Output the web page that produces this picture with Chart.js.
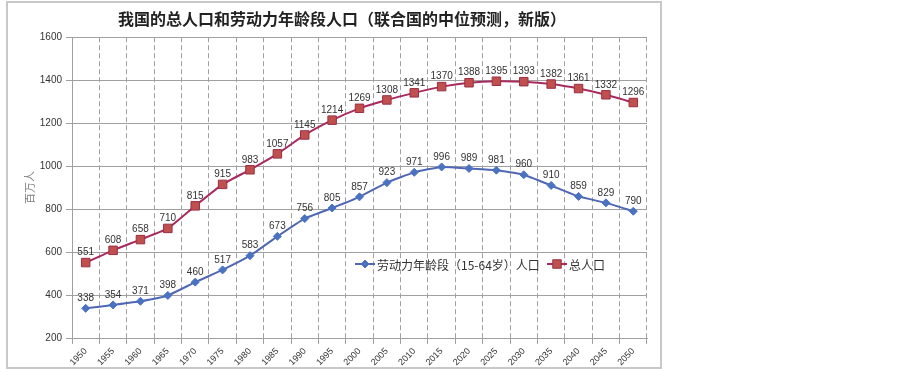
<!DOCTYPE html>
<html>
<head>
<meta charset="utf-8">
<script src="https://cdn.jsdelivr.net/npm/chart.js@4/dist/chart.umd.min.js"></script>
<style>
  html, body { margin: 0; padding: 0; background: #fff; width: 903px; height: 369px; overflow: hidden; }
  #frame { position: absolute; left: 6px; top: 1px; width: 652px; height: 364px; border: 2px solid #c8c8c8; }
  #wrap { position: absolute; left: 6px; top: 0; width: 703px; height: 369px; }
</style>
</head>
<body>
<div id="frame"></div>
<div id="wrap"><canvas id="c" width="703" height="369"></canvas></div>
<script>
const years = ['1950','1955','1960','1965','1970','1975','1980','1985','1990','1995','2000','2005','2010','2015','2020','2025','2030','2035','2040','2045','2050'];
const laborPop = [338,354,371,398,460,517,583,673,756,805,857,923,971,996,989,981,960,910,859,829,790];
const totalPop = [551,608,658,710,815,915,983,1057,1145,1214,1269,1308,1341,1370,1388,1395,1393,1382,1361,1332,1296];
const seriesNames = ['劳动力年龄段（15-64岁）人口', '总人口'];
const chartTitle = '我国的总人口和劳动力年龄段人口（联合国的中位预测，新版）';
const yTitle = '百万人';

const CJK = '"Noto Sans CJK SC", "Noto Sans", sans-serif';
const LAT = '"Liberation Sans", Arial, sans-serif';

const dataLabels = {
  id: 'dataLabels',
  afterDatasetsDraw(chart) {
    const ctx = chart.ctx;
    ctx.save();
    ctx.font = '10px ' + LAT;
    ctx.fillStyle = '#333';
    ctx.textAlign = 'center';
    ctx.textBaseline = 'middle';
    chart.data.datasets.forEach((ds, i) => {
      const meta = chart.getDatasetMeta(i);
      meta.data.forEach((pt, j) => {
        ctx.fillText(String(ds.data[j]), pt.x, pt.y - 10);
      });
    });
    ctx.restore();
  }
};

const innerLegend = {
  id: 'innerLegend',
  afterDraw(chart) {
    const ctx = chart.ctx;
    const y = 264;
    const items = [{x: 349, ds: chart.data.datasets[0]}, {x: 541, ds: chart.data.datasets[1]}];
    ctx.save();
    items.forEach(it => {
      const ds = it.ds;
      ctx.strokeStyle = ds.borderColor;
      ctx.lineWidth = 2;
      ctx.beginPath();
      ctx.moveTo(it.x, y);
      ctx.lineTo(it.x + 20, y);
      ctx.stroke();
      ctx.fillStyle = ds.pointBackgroundColor;
      ctx.strokeStyle = ds.pointBorderColor;
      ctx.lineWidth = 1;
      Chart.helpers.drawPoint(ctx, {pointStyle: ds.pointStyle, radius: ds.pointRadius, borderWidth: 1}, it.x + 10, y);
      ctx.fillStyle = '#333';
      ctx.font = '12px ' + CJK;
      ctx.textAlign = 'left';
      ctx.textBaseline = 'middle';
      ctx.fillText(ds.label, it.x + 22, y + 1);
    });
    ctx.restore();
  }
};

new Chart(document.getElementById('c'), {
  type: 'line',
  data: {
    labels: years,
    datasets: [
      {
        label: seriesNames[0],
        data: laborPop,
        borderColor: '#5068b4',
        backgroundColor: '#4a72c0',
        borderWidth: 2,
        pointStyle: 'rectRot',
        pointRadius: 4,
        pointBackgroundColor: '#4a72c0',
        pointBorderColor: '#4a72c0',
        pointBorderWidth: 1,
        tension: 0.15
      },
      {
        label: seriesNames[1],
        data: totalPop,
        borderColor: '#a82a5e',
        backgroundColor: '#c0504d',
        borderWidth: 2,
        pointStyle: 'rect',
        pointRadius: 6,
        pointBackgroundColor: '#c0504d',
        pointBorderColor: '#9a2f45',
        pointBorderWidth: 1,
        tension: 0.15
      }
    ]
  },
  options: {
    responsive: false,
    animation: false,
    devicePixelRatio: 1,
    layout: { padding: { left: 31, right: 62, top: 0, bottom: 0 } },
    plugins: {
      legend: { display: false },
      tooltip: { enabled: false },
      title: {
        display: true,
        text: chartTitle,
        color: '#222',
        font: { family: CJK, size: 16, weight: 'bold' },
        padding: { top: 9, bottom: 9 }
      }
    },
    scales: {
      x: {
        type: 'category',
        offset: true,
        afterFit(s) { s.height = 31; },
        grid: {
          offset: true,
          color: '#a0a0a0',
          lineWidth: 1,
          drawTicks: true,
          tickLength: 6,
          tickColor: '#a0a0a0'
        },
        border: { display: true, color: '#a0a0a0', width: 1, dash: [5, 3] },
        ticks: {
          color: '#333',
          font: { family: LAT, size: 9 },
          minRotation: 45,
          maxRotation: 45,
          autoSkip: false,
          padding: 2
        }
      },
      y: {
        min: 200,
        max: 1600,
        afterFit(s) { s.width = 35; },
        grid: {
          color: '#a0a0a0',
          lineWidth: 1,
          tickLength: 6,
          tickColor: '#a0a0a0'
        },
        border: { display: true, color: '#a0a0a0', width: 1 },
        ticks: {
          stepSize: 200,
          color: '#333',
          font: { family: LAT, size: 10 },
          padding: 4,
          callback: (v) => String(v)
        },
        title: {
          display: true,
          text: yTitle,
          color: '#808080',
          font: { family: CJK, size: 11 },
          padding: { top: -14, bottom: 0 }
        }
      }
    }
  },
  plugins: [dataLabels, innerLegend]
});
</script>
</body>
</html>
